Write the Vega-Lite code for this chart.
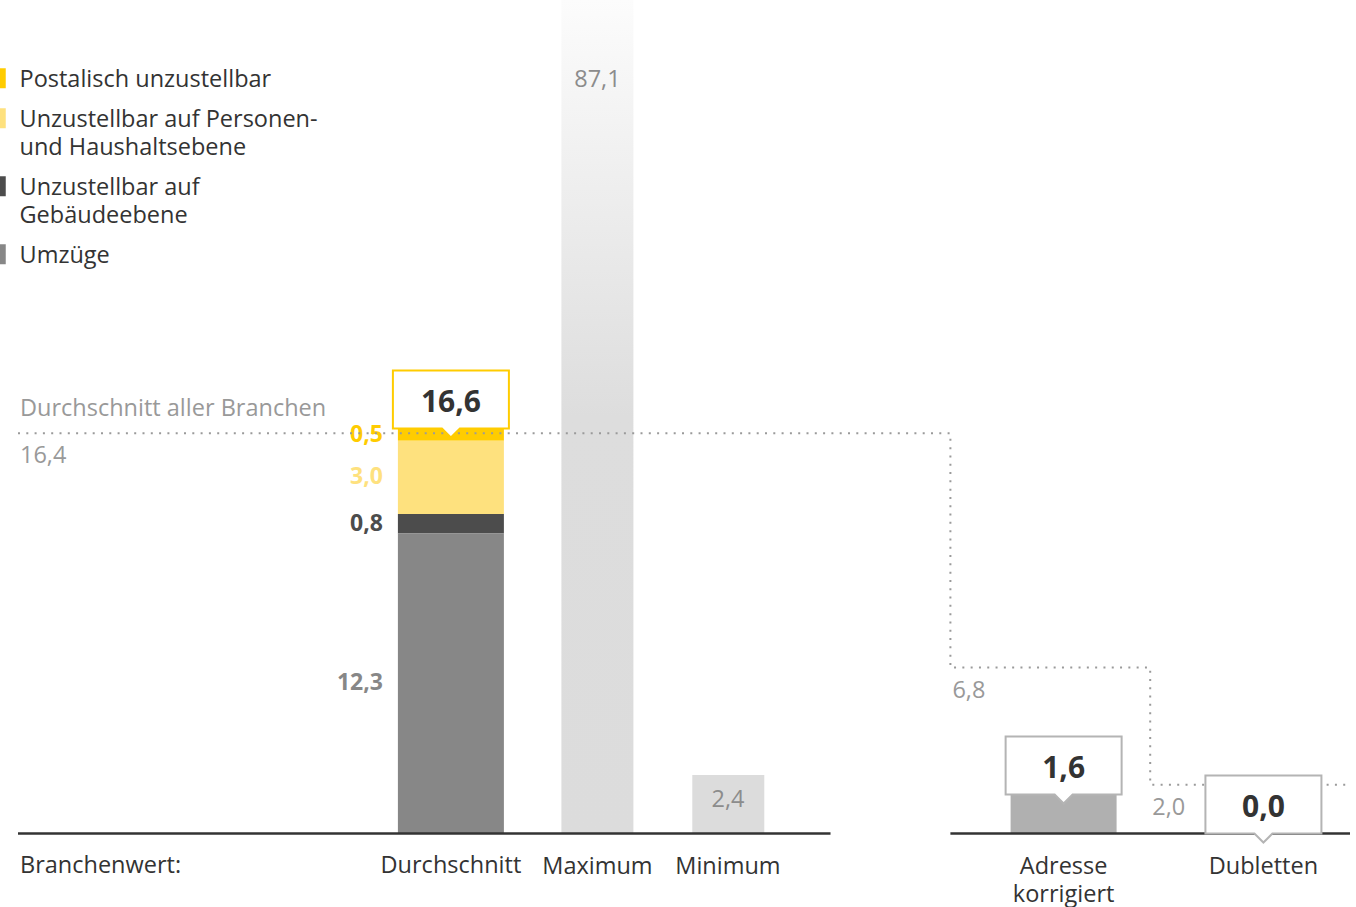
{
  "$schema": "https://vega.github.io/schema/vega-lite/v6.json",
  "width": 1356,
  "height": 907,
  "autosize": {"type": "none"},
  "padding": 0,
  "background": "#ffffff",
  "config": {
    "view": {"stroke": null},
    "font": "Open Sans",
    "style": {"guide-label": {"lineHeight": 28}},
    "locale": {"number": {"decimal": ",", "thousands": ".", "grouping": [3], "currency": ["", " €"]}}
  },
  "datasets": {
    "segmente": [
      {"Kategorie": "Postalisch unzustellbar", "Branchenwert": "Durchschnitt", "Wert": 0.5},
      {"Kategorie": "Unzustellbar auf Personen- und Haushaltsebene", "Branchenwert": "Durchschnitt", "Wert": 3.0},
      {"Kategorie": "Unzustellbar auf Gebäudeebene", "Branchenwert": "Durchschnitt", "Wert": 0.8},
      {"Kategorie": "Umzüge", "Branchenwert": "Durchschnitt", "Wert": 12.3}
    ],
    "werte": [
      {"Branchenwert": "Maximum", "Wert": 87.1},
      {"Branchenwert": "Minimum", "Wert": 2.4},
      {"Branchenwert": "Adresse korrigiert", "Wert": 1.6},
      {"Branchenwert": "Dubletten", "Wert": 0.0}
    ],
    "schnitt": [
      {"Abschnitt": "Branchenwert:", "Schnitt": 16.4},
      {"Abschnitt": "Ø Adresse korrigiert", "Schnitt": 6.8},
      {"Abschnitt": "Ø Dubletten", "Schnitt": 2.0},
      {"Abschnitt": "Ende", "Schnitt": 2.0}
    ],
    "deko": [{}]
  },
  "layer": [
    {
      "data": {"name": "segmente"},
      "transform": [{"calculate": "indexof(['Umzüge', 'Unzustellbar auf Gebäudeebene', 'Unzustellbar auf Personen- und Haushaltsebene', 'Postalisch unzustellbar'], datum.Kategorie)", "as": "Ebene"}],
      "mark": {"type": "bar", "width": 106},
      "encoding": {
        "x": {"field": "Branchenwert", "type": "nominal", "axis": null,
          "scale": {"domain": ["Branchenwert:", "·1", "·2", "·3", "·4", "·5", "Durchschnitt", "·7", "Maximum", "·9", "Minimum", "·11", "·12", "·13", "Ø Adresse korrigiert", "Adresse korrigiert", "·16", "Ø Dubletten", "Dubletten", "·19", "Ende"],
            "range": [18, 1416.6], "paddingInner": 0, "paddingOuter": 0}},
        "y": {"field": "Wert", "type": "quantitative", "stack": "zero", "axis": null,
          "scale": {"domain": [-3.01, 34.16], "nice": false, "zero": false, "clamp": true}},
        "color": {"field": "Kategorie", "type": "nominal",
          "scale": {"domain": ["Postalisch unzustellbar", "Unzustellbar auf Personen- und Haushaltsebene", "Unzustellbar auf Gebäudeebene", "Umzüge"],
            "range": ["#ffcc00", "#fee17e", "#4c4c4c", "#878787"]},
          "legend": {
            "orient": "none", "legendX": -9, "legendY": 75, "title": null, "padding": 0,
            "symbolType": "M-0.3,-1.85H0.3V0.15H-0.3Z", "symbolSize": 400, "symbolStrokeWidth": 0,
            "labelFont": "Open Sans", "labelFontSize": 23.5, "labelColor": "#333333", "labelLimit": 0, "labelOffset": 5,
            "labelBaseline": "alphabetic", "rowPadding": 15,
            "labelExpr": "datum.label == 'Unzustellbar auf Personen- und Haushaltsebene' ? ['Unzustellbar auf Personen-', 'und Haushaltsebene'] : datum.label == 'Unzustellbar auf Gebäudeebene' ? ['Unzustellbar auf', 'Gebäudeebene'] : datum.label"
          }},
        "order": {"field": "Ebene", "type": "quantitative"}
      }
    },
    {
      "data": {"name": "segmente"},
      "transform": [{"calculate": "indexof(['Umzüge', 'Unzustellbar auf Gebäudeebene', 'Unzustellbar auf Personen- und Haushaltsebene', 'Postalisch unzustellbar'], datum.Kategorie)", "as": "Ebene"}],
      "mark": {"type": "text", "align": "right", "baseline": "middle", "dx": -68, "fontSize": 23, "fontWeight": "bold"},
      "encoding": {
        "x": {"field": "Branchenwert", "type": "nominal"},
        "y": {"field": "Wert", "type": "quantitative", "stack": "zero", "bandPosition": 0.5},
        "color": {"field": "Kategorie", "type": "nominal"},
        "order": {"field": "Ebene", "type": "quantitative"},
        "text": {"field": "Wert", "type": "quantitative", "format": ".1f"}
      }
    },
    {
      "data": {"name": "werte"},
      "transform": [{"filter": "datum.Branchenwert === 'Maximum'"}],
      "mark": {"type": "bar", "width": 72, "xOffset": 13.3,
        "color": {"gradient": "linear", "x1": 0, "y1": 1, "x2": 0, "y2": 0,
          "stops": [{"offset": 0, "color": "#dcdcdc"}, {"offset": 0.5, "color": "#dddddd"}, {"offset": 1, "color": "#fcfcfc"}]}},
      "encoding": {
        "x": {"field": "Branchenwert", "type": "nominal"},
        "y": {"field": "Wert", "type": "quantitative"}
      }
    },
    {
      "data": {"name": "werte"},
      "transform": [{"filter": "datum.Branchenwert === 'Minimum'"}],
      "mark": {"type": "bar", "width": 72, "xOffset": 11, "color": "#dcdcdc"},
      "encoding": {
        "x": {"field": "Branchenwert", "type": "nominal"},
        "y": {"field": "Wert", "type": "quantitative"}
      }
    },
    {
      "data": {"name": "werte"},
      "transform": [{"filter": "datum.Branchenwert === 'Adresse korrigiert'"}],
      "mark": {"type": "bar", "width": 106, "xOffset": 13.3, "color": "#b0b0b0"},
      "encoding": {
        "x": {"field": "Branchenwert", "type": "nominal"},
        "y": {"field": "Wert", "type": "quantitative"}
      }
    },
    {
      "data": {"name": "deko"},
      "mark": {"type": "rule", "color": "#333333", "strokeWidth": 2.5},
      "encoding": {
        "x": {"datum": "Branchenwert:", "type": "nominal", "bandPosition": 0},
        "x2": {"datum": "·12", "bandPosition": 0.2},
        "y": {"datum": 0, "type": "quantitative"}
      }
    },
    {
      "data": {"name": "deko"},
      "mark": {"type": "rule", "color": "#333333", "strokeWidth": 2.5},
      "encoding": {
        "x": {"datum": "Ø Adresse korrigiert", "type": "nominal", "bandPosition": 0},
        "x2": {"datum": "Ende", "bandPosition": 0},
        "y": {"datum": 0, "type": "quantitative"}
      }
    },
    {
      "data": {"name": "schnitt"},
      "mark": {"type": "line", "interpolate": "step-after", "color": "#9a9a9a", "strokeWidth": 2, "strokeDash": [2, 6.3]},
      "encoding": {
        "x": {"field": "Abschnitt", "type": "nominal", "bandPosition": 0},
        "y": {"field": "Schnitt", "type": "quantitative"},
        "order": {"value": null}
      }
    },
    {
      "data": {"name": "segmente"},
      "mark": {"type": "point", "shape": "M-1,-1H1V0H0.155L0,0.155L-0.155,0H-1Z", "size": 13456, "filled": true,
        "fill": "#ffffff", "fillOpacity": 1, "stroke": "#ffcc00", "strokeOpacity": 1, "strokeWidth": 2},
      "encoding": {
        "x": {"field": "Branchenwert", "type": "nominal"},
        "y": {"aggregate": "sum", "field": "Wert", "type": "quantitative"}
      }
    },
    {
      "data": {"name": "werte"},
      "transform": [{"filter": "datum.Branchenwert === 'Adresse korrigiert' || datum.Branchenwert === 'Dubletten'"}],
      "mark": {"type": "point", "shape": "M-1,-1H1V0H0.155L0,0.155L-0.155,0H-1Z", "size": 13456, "filled": true,
        "fill": "#ffffff", "fillOpacity": 1, "stroke": "#b4b4b4", "strokeOpacity": 1, "strokeWidth": 2},
      "encoding": {
        "x": {"field": "Branchenwert", "type": "nominal", "bandPosition": 0.7},
        "y": {"field": "Wert", "type": "quantitative"}
      }
    },
    {
      "data": {"name": "segmente"},
      "mark": {"type": "text", "align": "center", "baseline": "alphabetic", "dy": -16, "fontSize": 30, "fontWeight": "bold", "color": "#333333"},
      "encoding": {
        "x": {"field": "Branchenwert", "type": "nominal"},
        "y": {"aggregate": "sum", "field": "Wert", "type": "quantitative"},
        "text": {"aggregate": "sum", "field": "Wert", "type": "quantitative", "format": ".1f"}
      }
    },
    {
      "data": {"name": "werte"},
      "transform": [{"filter": "datum.Branchenwert === 'Adresse korrigiert' || datum.Branchenwert === 'Dubletten'"}],
      "mark": {"type": "text", "align": "center", "baseline": "alphabetic", "dy": -17, "fontSize": 30, "fontWeight": "bold", "color": "#333333"},
      "encoding": {
        "x": {"field": "Branchenwert", "type": "nominal", "bandPosition": 0.7},
        "y": {"field": "Wert", "type": "quantitative"},
        "text": {"field": "Wert", "type": "quantitative", "format": ".1f"}
      }
    },
    {
      "data": {"name": "werte"},
      "transform": [{"filter": "datum.Branchenwert === 'Maximum'"}],
      "mark": {"type": "text", "align": "center", "baseline": "alphabetic", "dy": 87, "fontSize": 23.5, "color": "#8c8c8c"},
      "encoding": {
        "x": {"field": "Branchenwert", "type": "nominal", "bandPosition": 0.7},
        "y": {"field": "Wert", "type": "quantitative"},
        "text": {"field": "Wert", "type": "quantitative", "format": ".1f"}
      }
    },
    {
      "data": {"name": "werte"},
      "transform": [{"filter": "datum.Branchenwert === 'Minimum'"}],
      "mark": {"type": "text", "align": "center", "baseline": "alphabetic", "dy": 32, "fontSize": 23.5, "color": "#8c8c8c"},
      "encoding": {
        "x": {"field": "Branchenwert", "type": "nominal", "bandPosition": 0.66},
        "y": {"field": "Wert", "type": "quantitative"},
        "text": {"field": "Wert", "type": "quantitative", "format": ".1f"}
      }
    },
    {
      "data": {"name": "schnitt"},
      "transform": [{"filter": "datum.Abschnitt !== 'Ende'"}],
      "mark": {"type": "text", "align": "left", "baseline": "alphabetic", "dx": 2, "dy": 30, "fontSize": 23.5, "color": "#999999"},
      "encoding": {
        "x": {"field": "Abschnitt", "type": "nominal", "bandPosition": 0},
        "y": {"field": "Schnitt", "type": "quantitative"},
        "text": {"field": "Schnitt", "type": "quantitative", "format": ".1f"}
      }
    },
    {
      "data": {"name": "schnitt"},
      "transform": [{"filter": "datum.Abschnitt === 'Branchenwert:'"}],
      "mark": {"type": "text", "align": "left", "baseline": "alphabetic", "dx": 2, "dy": -17, "fontSize": 23.5, "color": "#999999", "text": "Durchschnitt aller Branchen"},
      "encoding": {
        "x": {"field": "Abschnitt", "type": "nominal", "bandPosition": 0},
        "y": {"field": "Schnitt", "type": "quantitative"}
      }
    },
    {
      "data": {"name": "deko"},
      "mark": {"type": "text", "align": "left", "baseline": "alphabetic", "dx": 2, "dy": 39, "fontSize": 23.5, "color": "#333333", "text": "Branchenwert:"},
      "encoding": {
        "x": {"datum": "Branchenwert:", "type": "nominal", "bandPosition": 0},
        "y": {"datum": 0, "type": "quantitative"}
      }
    },
    {
      "data": {"name": "segmente"},
      "transform": [{"aggregate": [{"op": "sum", "field": "Wert", "as": "Summe"}], "groupby": ["Branchenwert"]}],
      "mark": {"type": "text", "align": "center", "baseline": "alphabetic", "dy": 39, "fontSize": 23.5, "color": "#333333"},
      "encoding": {
        "x": {"field": "Branchenwert", "type": "nominal"},
        "y": {"datum": 0, "type": "quantitative"},
        "text": {"field": "Branchenwert", "type": "nominal"}
      }
    },
    {
      "data": {"name": "werte"},
      "transform": [{"filter": "datum.Branchenwert !== 'Minimum'"}],
      "mark": {"type": "text", "align": "center", "baseline": "alphabetic", "dy": 40, "fontSize": 23.5, "color": "#333333", "lineBreak": " ", "lineHeight": 28},
      "encoding": {
        "x": {"field": "Branchenwert", "type": "nominal", "bandPosition": 0.7},
        "y": {"datum": 0, "type": "quantitative"},
        "text": {"field": "Branchenwert", "type": "nominal"}
      }
    },
    {
      "data": {"name": "werte"},
      "transform": [{"filter": "datum.Branchenwert === 'Minimum'"}],
      "mark": {"type": "text", "align": "center", "baseline": "alphabetic", "dy": 40, "fontSize": 23.5, "color": "#333333"},
      "encoding": {
        "x": {"field": "Branchenwert", "type": "nominal", "bandPosition": 0.66},
        "y": {"datum": 0, "type": "quantitative"},
        "text": {"field": "Branchenwert", "type": "nominal"}
      }
    }
  ]
}
